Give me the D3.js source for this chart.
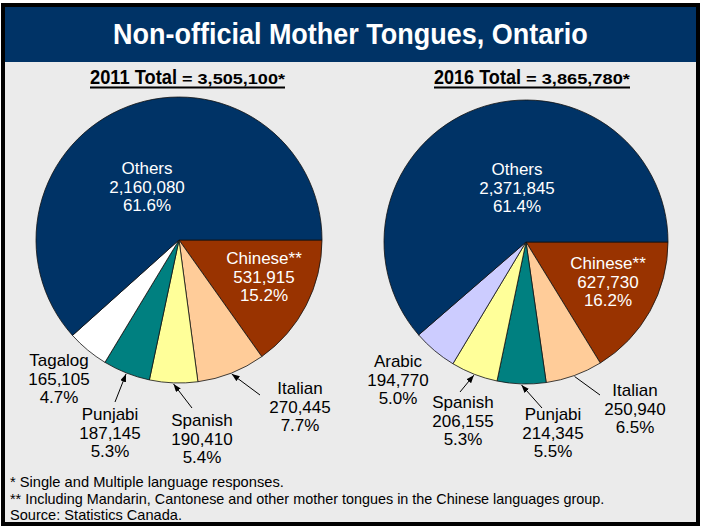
<!DOCTYPE html>
<html><head><meta charset="utf-8">
<script src="https://cdn.jsdelivr.net/npm/d3@7"></script>
<style>
body{margin:0;background:#fff}
svg{display:block}
text{font-family:"Liberation Sans",Arial,Helvetica,sans-serif}
</style>
</head><body><div id="chart"></div>
<script>
// ---------- DATA ----------
const title = "Non-official Mother Tongues, Ontario";
const categories2011 = ["Chinese**", "Italian", "Spanish", "Punjabi", "Tagalog", "Others"];
const values2011 = [531915, 270445, 190410, 187145, 165105, 2160080];
const total2011 = 3505100;
const categories2016 = ["Chinese**", "Italian", "Punjabi", "Spanish", "Arabic", "Others"];
const values2016 = [627730, 250940, 214345, 206155, 194770, 2371845];
const total2016 = 3865780;
const footnotes = [
  "* Single and Multiple language responses.",
  "** Including Mandarin, Cantonese and other mother tongues in the Chinese languages group.",
  "Source: Statistics Canada."
];

// ---------- STYLE / LAYOUT ----------
const colors = {
  "Others": "#003366", "Chinese**": "#993300", "Italian": "#FFCC99",
  "Spanish": "#FFFF99", "Punjabi": "#008080", "Tagalog": "#FFFFFF", "Arabic": "#CCCCFF"
};
const W = 703, H = 530;
const pies = [
  { year: "2011", cats: categories2011, vals: values2011, total: total2011,
    cx: 179, cy: 240, r: 143, subX: 90, subW1: 87, subX2: 182, subW2: 103,
    labels: {
      "Others": {dx: -32, dy: -72, inside: true},
      "Chinese**": {dx: 85, dy: 18, inside: true},
      "Tagalog": {dx: -120, dy: 120},
      "Punjabi": {dx: -69, dy: 174, arrow: [-64, 162], head: true},
      "Spanish": {dx: 23, dy: 180, arrow: [13, 168], head: true},
      "Italian": {dx: 121, dy: 148, arrow: [81, 155], head: true}
    }},
  { year: "2016", cats: categories2016, vals: values2016, total: total2016,
    cx: 526, cy: 242, r: 142, subX: 434, subW1: 87, subX2: 526, subW2: 104,
    labels: {
      "Others": {dx: -9, dy: -73, inside: true},
      "Chinese**": {dx: 82, dy: 21, inside: true},
      "Arabic": {dx: -128, dy: 119},
      "Spanish": {dx: -63, dy: 160, arrow: [-66, 150], head: true},
      "Punjabi": {dx: 27, dy: 172, arrow: [16, 166], head: true},
      "Italian": {dx: 109, dy: 148, arrow: [74, 153], head: false}
    }}
];

const svg = d3.select("#chart").append("svg").attr("width", W).attr("height", H);
svg.append("defs").append("marker")
  .attr("id", "ah").attr("viewBox", "0 0 8 6").attr("refX", 8).attr("refY", 3)
  .attr("markerWidth", 8).attr("markerHeight", 6).attr("markerUnits", "userSpaceOnUse")
  .attr("orient", "auto")
  .append("path").attr("d", "M0,0L8,3L0,6Z").attr("fill", "#000");

// background + title band
svg.append("rect").attr("x", 3).attr("y", 5).attr("width", 695).attr("height", 519).attr("fill", "#EBEBEB");
svg.append("rect").attr("x", 3).attr("y", 5).attr("width", 695).attr("height", 57).attr("fill", "#003366");
svg.append("rect").attr("x", 3).attr("y", 5).attr("width", 695).attr("height", 519)
  .attr("fill", "none").attr("stroke", "#000").attr("stroke-width", 4);

function fit(sel, x0, y, target) {
  const w = sel.node().getComputedTextLength();
  sel.attr("x", 0).attr("y", 0)
     .attr("transform", `translate(${x0},${y}) scale(${target / w},1)`);
}

const t = svg.append("text").attr("fill", "#fff").attr("font-weight", "bold")
  .attr("font-size", 29).text(title);
fit(t, 113, 44, 475);

const fmt = d3.format(",");
const pfmt = d3.format(".1f");
const lineH = 18.7;

pies.forEach(p => {
  // subtitle
  const s1 = svg.append("text").attr("font-weight", "bold").attr("fill", "#000")
    .attr("font-size", 21).text(p.year + " Total");
  fit(s1, p.subX, 84, p.subW1);
  const s2 = svg.append("text").attr("font-weight", "bold").attr("fill", "#000")
    .attr("font-size", 15.5).text("= " + fmt(p.total) + "*");
  fit(s2, p.subX2, 84, p.subW2);
  svg.append("line").attr("x1", p.subX).attr("x2", p.subX2 + p.subW2)
    .attr("y1", 87.5).attr("y2", 87.5).attr("stroke", "#000").attr("stroke-width", 1.8);

  const data = p.cats.map((c, i) => ({cat: c, value: p.vals[i]}));
  const arcs = d3.pie().sort(null).value(d => d.value)
    .startAngle(Math.PI / 2).endAngle(Math.PI / 2 + 2 * Math.PI)(data);
  const arc = d3.arc().innerRadius(0).outerRadius(p.r);
  const g = svg.append("g").attr("transform", `translate(${p.cx},${p.cy})`);
  g.selectAll("path.slice").data(arcs).join("path").attr("class", "slice")
    .attr("d", arc).attr("fill", d => colors[d.data.cat])
    .attr("stroke", "#111").attr("stroke-width", 0.8);

  arcs.forEach(a => {
    const L = p.labels[a.data.cat];
    const lines = [a.data.cat, fmt(a.data.value), pfmt(a.data.value / p.total * 100) + "%"];
    const tx = g.append("text").attr("text-anchor", "middle").attr("font-size", 17)
      .attr("fill", L.inside ? "#fff" : "#000");
    lines.forEach((s, i) => {
      tx.append("tspan").attr("x", L.dx).attr("y", L.dy + 6 + i * lineH).text(s);
    });
    if (L.arrow) {
      const m = (a.startAngle + a.endAngle) / 2;
      const tr = p.r + 1;
      const ln = g.append("line").attr("x1", L.arrow[0]).attr("y1", L.arrow[1])
        .attr("x2", Math.sin(m) * tr).attr("y2", -Math.cos(m) * tr)
        .attr("stroke", "#000").attr("stroke-width", 1);
      if (L.head) ln.attr("marker-end", "url(#ah)");
    }
  });
});

const footWidths = [274, 595, 172];
footnotes.forEach((f, i) => {
  const ft = svg.append("text").attr("font-size", 14).attr("fill", "#000").text(f);
  fit(ft, 10, 487 + i * 16.5, footWidths[i]);
});
</script>
</body></html>
